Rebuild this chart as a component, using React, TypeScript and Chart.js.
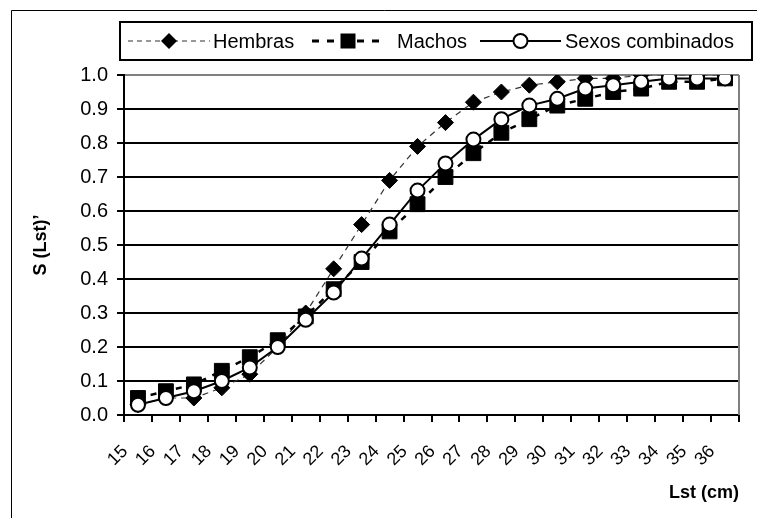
import React, { useEffect, useRef } from 'react';
import { Chart, registerables } from 'chart.js';

Chart.register(...registerables);

const categories = ['15', '16', '17', '18', '19', '20', '21', '22', '23', '24', '25', '26', '27', '28', '29', '30', '31', '32', '33', '34', '35', '36'];
const hembras = [0.03, 0.05, 0.05, 0.08, 0.12, 0.20, 0.30, 0.43, 0.56, 0.69, 0.79, 0.86, 0.92, 0.95, 0.97, 0.98, 0.99, 0.99, 1.0, 1.0, 1.0, 1.0];
const machos = [0.05, 0.07, 0.09, 0.13, 0.17, 0.22, 0.29, 0.37, 0.45, 0.54, 0.62, 0.70, 0.77, 0.83, 0.87, 0.91, 0.93, 0.95, 0.96, 0.98, 0.98, 0.99];
const combinados = [0.03, 0.05, 0.07, 0.10, 0.14, 0.20, 0.28, 0.36, 0.46, 0.56, 0.66, 0.74, 0.81, 0.87, 0.91, 0.93, 0.96, 0.97, 0.98, 0.99, 0.99, 0.99];
const seriesNames = ['Hembras', 'Machos', 'Sexos combinados'];
const xTitle = 'Lst (cm)';
const yTitle = 'S (Lst)\u2019';

const FONT = '"Liberation Sans", Arial, Helvetica, sans-serif';

const framePlugin = {
  id: 'frame',
  beforeDraw(chart: any) {
    const ctx = chart.ctx;
    ctx.save();
    ctx.fillStyle = '#fff';
    ctx.fillRect(0, 0, chart.width, chart.height);
    ctx.strokeStyle = '#000';
    ctx.lineWidth = 1;
    ctx.beginPath();
    ctx.moveTo(11.5, chart.height);
    ctx.lineTo(11.5, 10.5);
    ctx.lineTo(chart.width, 10.5);
    ctx.stroke();
    ctx.restore();
  },
  beforeDatasetsDraw(chart: any) {
    const ctx = chart.ctx;
    const a = chart.chartArea;
    ctx.save();
    ctx.strokeStyle = '#808080';
    ctx.lineWidth = 2;
    ctx.beginPath();
    ctx.moveTo(a.right, a.top);
    ctx.lineTo(a.right, a.bottom);
    ctx.stroke();
    ctx.restore();
  },
};

function drawMarker(ctx: CanvasRenderingContext2D, kind: string, x: number, y: number) {
  ctx.save();
  ctx.setLineDash([]);
  if (kind === 'diamond') {
    const r = 8;
    ctx.fillStyle = '#000';
    ctx.beginPath();
    ctx.moveTo(x, y - r);
    ctx.lineTo(x + r, y);
    ctx.lineTo(x, y + r);
    ctx.lineTo(x - r, y);
    ctx.closePath();
    ctx.fill();
  } else if (kind === 'square') {
    ctx.fillStyle = '#000';
    ctx.fillRect(x - 7.5, y - 7.5, 15, 15);
  } else {
    ctx.fillStyle = '#fff';
    ctx.strokeStyle = '#000';
    ctx.lineWidth = 2;
    ctx.beginPath();
    ctx.arc(x, y, 7, 0, Math.PI * 2);
    ctx.fill();
    ctx.stroke();
  }
  ctx.restore();
}

const legendPlugin = {
  id: 'boxLegend',
  afterDraw(chart: any) {
    const ctx: CanvasRenderingContext2D = chart.ctx;
    ctx.save();
    ctx.fillStyle = '#fff';
    ctx.fillRect(120, 22, 632, 38);
    ctx.strokeStyle = '#000';
    ctx.lineWidth = 2;
    ctx.strokeRect(120, 22, 632, 38);
    const cy = 41;
    const items = [
      { name: seriesNames[0], x0: 128, x1: 210, tx: 213, color: '#333', width: 1.2, dash: [5, 4], marker: 'diamond' },
      { name: seriesNames[1], x0: 312, x1: 384, tx: 397, color: '#000', width: 3, dash: [7, 8], marker: 'square' },
      { name: seriesNames[2], x0: 480, x1: 561, tx: 565, color: '#000', width: 2, dash: [], marker: 'circle' },
    ];
    ctx.font = '20px ' + FONT;
    ctx.textBaseline = 'middle';
    ctx.textAlign = 'left';
    for (const it of items) {
      ctx.strokeStyle = it.color;
      ctx.lineWidth = it.width;
      ctx.setLineDash(it.dash);
      ctx.beginPath();
      ctx.moveTo(it.x0, cy);
      ctx.lineTo(it.x1, cy);
      ctx.stroke();
      drawMarker(ctx, it.marker, (it.x0 + it.x1) / 2, cy);
      ctx.fillStyle = '#000';
      ctx.fillText(it.name, it.tx, cy + 1);
    }
    ctx.restore();
  },
};

export default function App() {
  const ref = useRef<HTMLCanvasElement>(null);
  useEffect(() => {
    const chart = new Chart(ref.current as HTMLCanvasElement, {
      type: 'line',
      data: {
        labels: categories,
        datasets: [
          {
            label: seriesNames[0],
            data: hembras,
            borderColor: '#333',
            borderWidth: 1.2,
            borderDash: [6, 5],
            pointStyle: 'rectRot',
            pointRadius: 8,
            pointBackgroundColor: '#000',
            pointBorderColor: '#000',
            pointBorderWidth: 1,
            tension: 0,
            fill: false,
            order: 3,
          },
          {
            label: seriesNames[1],
            data: machos,
            borderColor: '#000',
            borderWidth: 2.5,
            borderDash: [6, 7],
            pointStyle: 'rect',
            pointRadius: 10.5,
            pointBackgroundColor: '#000',
            pointBorderColor: '#000',
            pointBorderWidth: 1,
            tension: 0,
            fill: false,
            order: 2,
          },
          {
            label: seriesNames[2],
            data: combinados,
            borderColor: '#000',
            borderWidth: 2,
            pointStyle: 'circle',
            pointRadius: 7,
            pointBackgroundColor: '#fff',
            pointBorderColor: '#000',
            pointBorderWidth: 2,
            tension: 0,
            fill: false,
            order: 1,
          },
        ],
      },
      options: {
        responsive: false,
        animation: false,
        layout: { padding: { top: 75, right: 18, left: 0, bottom: 0 } },
        plugins: { legend: { display: false }, tooltip: { enabled: false } },
        scales: {
          x: {
            type: 'category',
            offset: true,
            grid: {
              offset: true,
              drawOnChartArea: false,
              drawTicks: true,
              tickLength: 7,
              tickColor: '#000',
              tickWidth: 2,
              color: '#000',
              lineWidth: 2,
            },
            border: { color: '#000', width: 2 },
            ticks: {
              color: '#000',
              font: { family: FONT, size: 18 },
              minRotation: 45,
              maxRotation: 45,
              autoSkip: false,
              padding: 19,
              labelOffset: -13,
            },
            title: {
              display: true,
              text: xTitle,
              align: 'end',
              color: '#000',
              font: { family: FONT, size: 18, weight: 'bold' },
              padding: { top: 14, bottom: 14 },
            },
            afterFit: (s: any) => {
              s.height = 103;
              s.paddingLeft = 0;
              s.paddingRight = 0;
            },
          },
          y: {
            min: 0,
            max: 1,
            ticks: {
              stepSize: 0.1,
              callback: (v: any) => Number(v).toFixed(1),
              color: '#000',
              font: { family: FONT, size: 20 },
              padding: 9,
            },
            grid: {
              color: (c: any) => (c.tick && Math.abs(c.tick.value - 1) < 1e-6 ? '#808080' : '#000'),
              lineWidth: 2,
              tickLength: 7,
              tickColor: '#000',
              tickWidth: 2,
            },
            border: { color: '#000', width: 2 },
            title: {
              display: true,
              text: yTitle,
              color: '#000',
              font: { family: FONT, size: 18, weight: 'bold' },
              padding: { top: 30, bottom: 30 },
            },
            afterFit: (s: any) => {
              s.width = 124;
            },
          },
        },
      } as any,
      plugins: [framePlugin, legendPlugin],
    });
    return () => chart.destroy();
  }, []);
  return (
    <div style={{ position: 'absolute', left: 0, top: 0, width: 757, height: 518 }}>
      <canvas ref={ref} width={757} height={518} style={{ display: 'block' }} />
    </div>
  );
}
